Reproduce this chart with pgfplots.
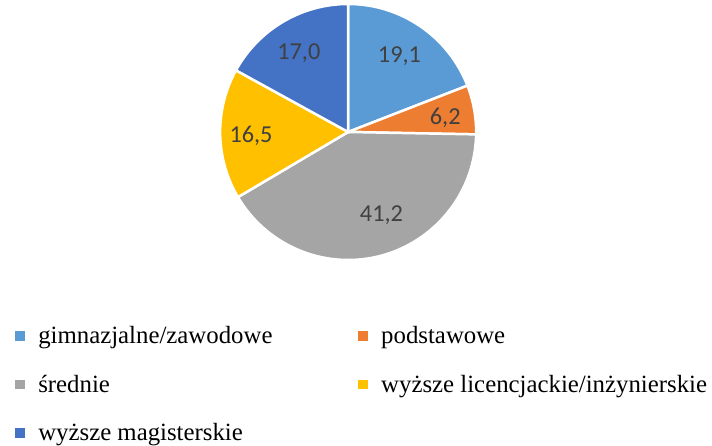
\documentclass[border=0pt]{standalone}
\usepackage{pgfplots}
\pgfplotsset{compat=1.18}
\usepackage{pgfplotstable}
\usepackage{fontspec}
\setmainfont{Liberation Serif}
\newfontfamily\labfont{Carlito}

\definecolor{c1}{HTML}{5B9BD5}
\definecolor{c2}{HTML}{ED7D31}
\definecolor{c3}{HTML}{A5A5A5}
\definecolor{c4}{HTML}{FFC000}
\definecolor{c5}{HTML}{4472C4}
\definecolor{labgray}{HTML}{404040}

% shares in percent, clockwise from the top
\pgfplotstableread{
value
19.1
6.2
41.2
16.5
17.0
}\piedata

% cumulative angles of the slice borders
\expandafter\xdef\csname pieang0\endcsname{90}
\def\cum{90}
\pgfplotsforeachungrouped \i in {0,...,4}{%
  \pgfplotstablegetelem{\i}{value}\of\piedata
  \pgfmathsetmacro\cum{\cum-3.6*\pgfplotsretval}%
  \pgfmathtruncatemacro\j{\i+1}%
  \expandafter\xdef\csname pieang\j\endcsname{\cum}%
}
\def\pa#1{\csname pieang#1\endcsname}
\def\cx{349.5}
\def\cy{310.5}
\def\rad{128.5bp}

\begin{document}
\begin{tikzpicture}
\begin{axis}[
    scale only axis, width=712bp, height=443bp,
    xmin=0, xmax=712, ymin=0, ymax=443,
    hide axis, clip=false,
    legend columns=2,
    legend cell align=left,
    legend image code/.code={\fill[#1] (0bp,-4.5bp) rectangle (9bp,4.5bp); \path[draw=none, fill=none] (0bp,0bp) -- (21bp,0bp);},
    legend style={
        draw=none, fill=none,
        at={(axis description cs:0.0169,0.269)}, anchor=north west,
        font=\fontsize{25}{30}\selectfont,
        /tikz/every even column/.append style={column sep=84bp},
        row sep=25.5bp,
    },
]
\path (axis cs:0,0) rectangle (axis cs:712,443);

\fill[c1, draw=white, line width=2.5bp] (axis cs:\cx,\cy) -- ++(\pa0:\rad) arc[start angle=\pa0, end angle=\pa1, radius=\rad] -- cycle;
\fill[c2, draw=white, line width=2.5bp] (axis cs:\cx,\cy) -- ++(\pa1:\rad) arc[start angle=\pa1, end angle=\pa2, radius=\rad] -- cycle;
\fill[c3, draw=white, line width=2.5bp] (axis cs:\cx,\cy) -- ++(\pa2:\rad) arc[start angle=\pa2, end angle=\pa3, radius=\rad] -- cycle;
\fill[c4, draw=white, line width=2.5bp] (axis cs:\cx,\cy) -- ++(\pa3:\rad) arc[start angle=\pa3, end angle=\pa4, radius=\rad] -- cycle;
\fill[c5, draw=white, line width=2.5bp] (axis cs:\cx,\cy) -- ++(\pa4:\rad) arc[start angle=\pa4, end angle=\pa5, radius=\rad] -- cycle;

\begin{scope}[every node/.style={font=\labfont\fontsize{24.5}{28}\selectfont, text=labgray}]
\node at (axis cs:401,387) {19,1};
\node at (axis cs:447,324.5) {6,2};
\node at (axis cs:383,227) {41,2};
\node at (axis cs:252,306.5) {16,5};
\node at (axis cs:300,389.5) {17,0};
\end{scope}

\addlegendimage{c1}\addlegendentry{gimnazjalne/zawodowe}
\addlegendimage{c2}\addlegendentry{podstawowe}
\addlegendimage{c3}\addlegendentry{średnie}
\addlegendimage{c4}\addlegendentry{wyższe licencjackie/inżynierskie}
\addlegendimage{c5}\addlegendentry{wyższe magisterskie}
\end{axis}
\end{tikzpicture}
\end{document}
